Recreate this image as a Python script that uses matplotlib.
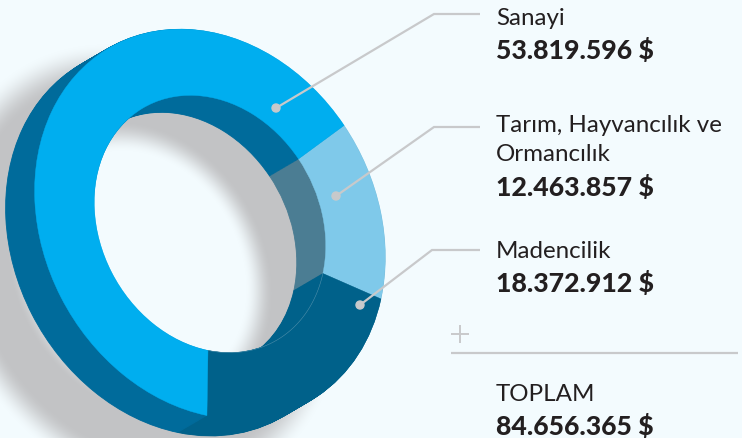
import numpy as np
import matplotlib
matplotlib.use('Agg')
import matplotlib.pyplot as plt
from matplotlib.patches import Wedge, Circle
from matplotlib.transforms import Affine2D

# data
categories = ['Sanayi', 'Tarım, Hayvancılık ve', 'Ormancılık', 'Madencilik']
values = [53819596, 12463857, 18372912]
total_label = 'TOPLAM'

# ring colours, order as values
face_colors = ['#00aeef', '#7fc9ea', '#00618a']
wall_colors = ['#006b9b', '#4b7d93', '#00618a']
bg_color = '#f3fbfe'
line_color = '#c8c9cb'
text_color = '#231f20'
shadow_color = '#c2c3c5'

# ellipse of the tilted ring, in pixels
cx, cy = 210, 225
semi_a, semi_b, tilt = 203, 166, 61
ring_width = 0.34
depth = (-29, 17)
start_angle = -96


def fmt(v):
    return f'{v:,}'.replace(',', '.') + ' $'


def smoothstep(x):
    x = np.clip(x, 0, 1)
    return x * x * (3 - 2 * x)


fig = plt.figure(figsize=(7.42, 4.39), dpi=100, facecolor=bg_color)
ax = fig.add_axes([0, 0, 1, 1])
ax.set_facecolor(bg_color)

# soft drop shadow of the ring
xx, yy = np.meshgrid(np.arange(742) + 0.5, np.arange(439) + 0.5)
sx, sy = cx - 70, cy + 45
t = np.radians(tilt)
u = ((xx - sx) * np.cos(t) + (yy - sy) * np.sin(t)) / semi_a
w = (-(xx - sx) * np.sin(t) + (yy - sy) * np.cos(t)) / semi_b
r = np.hypot(u, w)
alpha = smoothstep((r - 0.60) / 0.16) * (1 - smoothstep((r - 0.96) / 0.2))
shadow = np.zeros((439, 742, 4))
shadow[..., :3] = matplotlib.colors.to_rgb(shadow_color)
shadow[..., 3] = alpha
ax.imshow(shadow, extent=(0, 742, 439, 0), aspect='auto', zorder=1, interpolation='bilinear')


def ring_transform(dx, dy):
    return Affine2D().scale(semi_a, semi_b).rotate_deg(tilt).translate(cx + dx, cy + dy) + ax.transData


# slice angles
angles = start_angle + np.concatenate([[0], np.cumsum(values[1:] + values[:1])]) / sum(values) * 360
slice_order = [1, 2, 0]

# extruded walls, back to front
steps = 36
for k, f in enumerate(np.linspace(1, 0.02, steps)):
    for j, idx in enumerate(slice_order):
        p = Wedge((0, 0), 1, angles[j], angles[j + 1], width=ring_width,
                  facecolor=wall_colors[idx], edgecolor=wall_colors[idx], linewidth=0.6,
                  transform=ring_transform(depth[0] * f, depth[1] * f), zorder=2 + k * 0.01)
        ax.add_patch(p)

# front face
for j, idx in enumerate(slice_order):
    p = Wedge((0, 0), 1, angles[j], angles[j + 1], width=ring_width,
              facecolor=face_colors[idx], edgecolor=face_colors[idx], linewidth=0.3,
              transform=ring_transform(0, 0), zorder=4)
    ax.add_patch(p)

# hairline where the dark slice meets its own wall
th = np.radians(np.linspace(angles[1], angles[2], 80))
ax.plot((1 - ring_width) * np.cos(th), (1 - ring_width) * np.sin(th), color='#4d8eaa', lw=0.4,
        transform=ring_transform(0, 0), zorder=4.5)

# leader lines
leaders = [
    ([276, 434, 480], [109, 15, 15]),
    ([336, 434, 480], [197, 128, 128]),
    ([360, 432, 480], [306, 251, 251]),
]
for lx, ly in leaders:
    ax.plot(lx, ly, color=line_color, lw=1.6, zorder=5, solid_capstyle='butt', solid_joinstyle='miter')
    ax.add_patch(Circle((lx[0], ly[0]), 4, color=line_color, zorder=5))

# text blocks
name_kw = dict(fontsize=17.4, color=text_color, family='Lato', weight='normal', va='baseline', zorder=6)
value_kw = dict(fontsize=19.2, color=text_color, family='Lato', weight='black', va='baseline', zorder=6)
ax.text(496, 25, categories[0], **name_kw)
ax.text(496, 59, fmt(values[0]), **value_kw)
ax.text(496, 132, categories[1], **name_kw)
ax.text(496, 161, categories[2], **name_kw)
ax.text(496, 196, fmt(values[1]), **value_kw)
ax.text(496, 258, categories[3], **name_kw)
ax.text(496, 292, fmt(values[2]), **value_kw)
ax.text(496, 401, total_label, **name_kw)
ax.text(496, 435, fmt(sum(values)), **value_kw)

# sum rule
ax.plot([451, 738], [354, 354], color=line_color, lw=1.6, zorder=5, solid_capstyle='butt')
ax.plot([451, 469], [335, 335], color=line_color, lw=1.4, zorder=5, solid_capstyle='butt')
ax.plot([460, 460], [326, 344], color=line_color, lw=1.4, zorder=5, solid_capstyle='butt')

ax.set_xlim(0, 742)
ax.set_ylim(439, 0)
ax.axis('off')

plt.savefig('out.png', dpi=100, facecolor=bg_color)
plt.close()
